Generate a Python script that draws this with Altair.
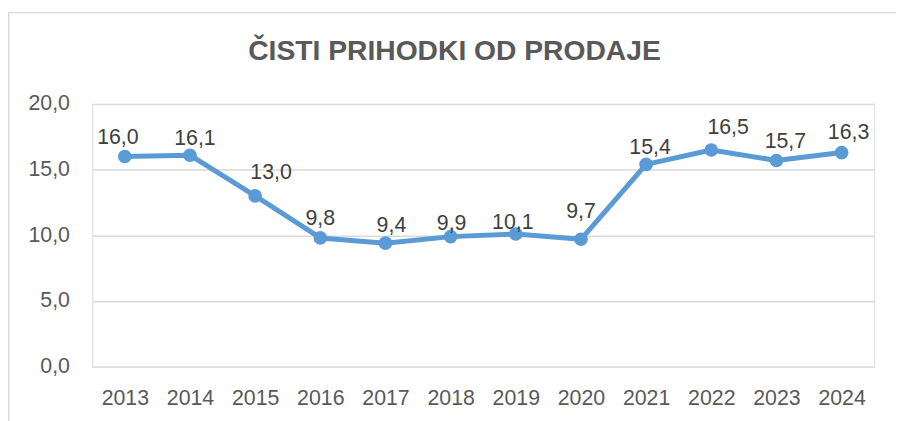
import altair as alt
import pandas as pd

# ---- data ----
years = ["2013", "2014", "2015", "2016", "2017", "2018", "2019", "2020",
         "2021", "2022", "2023", "2024"]
values = [16.0, 16.1, 13.0, 9.8, 9.4, 9.9, 10.1, 9.7, 15.4, 16.5, 15.7, 16.3]
title_text = "ČISTI PRIHODKI OD PRODAJE"
y_ticks = [0, 5, 10, 15, 20]

# label nudges (pixels) as placed in the original chart
label_dx = [-7, 5, 16, 0, 6, 1, -3, 0, 4, 17, 9, 7]
label_dy = [-13, -10, -17, -13, -11, -7, -5, -21, -10, -16, -13, -14]

df = pd.DataFrame({
    "year": years,
    "value": values,
    "label": [f"{v:.1f}".replace(".", ",") for v in values],
    "dx": label_dx,
    "dy": label_dy,
})

FONT = "Liberation Sans"
LINE = "#5b9bd5"

x = alt.X("year:O", sort=None, title=None,
          axis=alt.Axis(labelAngle=0, domain=False, ticks=False, tickSize=0,
                        labelPadding=38, labelBaseline="alphabetic",
                        labelFontSize=21.5, labelColor="#595959", labelFont=FONT))
y = alt.Y("value:Q", title=None,
          scale=alt.Scale(domain=[0, 20], nice=False, zero=True),
          axis=alt.Axis(values=y_ticks, domain=False, ticks=False, tickSize=0,
                        labelPadding=23, labelFontSize=21.5, labelColor="#595959",
                        labelFont=FONT, grid=True, gridColor="#d9d9d9", gridWidth=1.5,
                        labelExpr="replace(format(datum.value, '.1f'), '.', ',')"))

base = alt.Chart(df)

line = base.mark_line(color=LINE, strokeWidth=5, strokeJoin="round").encode(x=x, y=y)
points = base.mark_point(filled=True, color=LINE, size=190, opacity=1).encode(x=x, y=y)

label_layers = []
for (ddx, ddy), _ in df.groupby(["dx", "dy"]):
    label_layers.append(
        base.transform_filter(
            (alt.datum.dx == int(ddx)) & (alt.datum.dy == int(ddy))
        ).mark_text(font=FONT, fontSize=21.5, color="#404040",
                    baseline="alphabetic", align="center",
                    dx=int(ddx), dy=int(ddy)).encode(x=x, y=y, text="label:N")
    )

title = alt.Chart(pd.DataFrame({"t": [title_text]})).mark_text(
    font=FONT, fontSize=28.5, fontWeight="bold", color="#595959",
    align="center", baseline="alphabetic").encode(
    text="t:N", x=alt.value(365.5), y=alt.value(-44.7))

border = alt.Chart(pd.DataFrame({"a": [0]})).mark_rect(
    fillOpacity=0, stroke="#d9d9d9", strokeWidth=1.5).encode(
    x=alt.value(-84.25), x2=alt.value(1000), y=alt.value(-92.2), y2=alt.value(600))

chart = alt.layer(border, title, line, points, *label_layers).properties(
    width=789, height=265,
    autosize=alt.AutoSizeParams(type="none"),
    padding={"left": 85, "top": 95, "right": 22, "bottom": 53},
).configure_view(stroke=None).configure(background="white")

chart.save("out.html", embed_options={"renderer": "svg", "actions": False})
